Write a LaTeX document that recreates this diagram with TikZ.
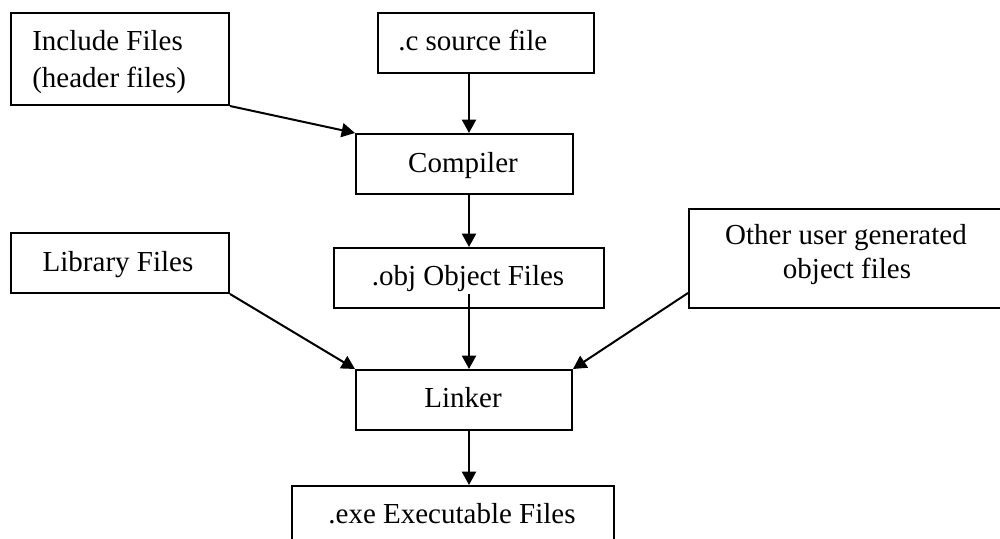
\documentclass[tikz,border=0pt]{standalone}
\usepackage{fontspec}
\setmainfont{Liberation Serif}
\usetikzlibrary{arrows.meta,calc}
\begin{document}
\begin{tikzpicture}[x=0.75pt,y=-0.75pt,
  box/.style={draw,line width=1.5pt,rectangle,inner sep=0pt,anchor=north west},
  txt/.style={inner sep=0pt,font=\fontsize{21.75}{26}\selectfont},
  arr/.style={line width=1.5pt,-{Triangle[length=10pt,width=10.5pt]}}]
\useasboundingbox (0,0) rectangle (1000,539);
% boxes
\node[box,minimum width=218*0.75pt,minimum height=92*0.75pt] (inc) at (10,12) {};
\node[box,minimum width=216*0.75pt,minimum height=60*0.75pt] (src) at (377,12) {};
\node[box,minimum width=217*0.75pt,minimum height=60*0.75pt] (comp) at (355,133) {};
\node[box,minimum width=270*0.75pt,minimum height=60*0.75pt] (obj) at (333,247) {};
\node[box,minimum width=218*0.75pt,minimum height=60*0.75pt] (lib) at (10,232) {};
\node[box,minimum width=318*0.75pt,minimum height=99*0.75pt] (oth) at (688,208) {};
\node[box,minimum width=216*0.75pt,minimum height=60*0.75pt] (lnk) at (355,369) {};
\node[box,minimum width=322*0.75pt,minimum height=70*0.75pt] (exe) at (291,485) {};
% texts
\node[txt,anchor=base west] (incA) at (32,50) {Include Files};
\node[txt,anchor=base west] (incB) at (32,87) {(header files)};
\node[txt,anchor=base west] (srcT) at (398,50) {.c source file};
\node[txt,anchor=base] (compT) at (463,172) {Compiler};
\node[txt,anchor=base] (objT) at (468,285) {.obj Object Files};
\node[txt,anchor=base] (libT) at (118,271) {Library Files};
\node[txt,anchor=base] (othA) at (846,244) {Other user generated};
\node[txt,anchor=base] (othB) at (847,278) {object files};
\node[txt,anchor=base] (lnkT) at (463,407) {Linker};
\node[txt,anchor=base] (exeT) at (452,523) {.exe Executable Files};
% connectors
\draw[arr] (inc.south east) -- (comp.north west);
\draw[arr] (src.south -| obj.north) -- (comp.north -| obj.north);
\draw[arr] (comp.south -| obj.north) -- (obj.north);
\coordinate (objin) at ($(obj.south)+(0,-15)$);
\draw[arr] (objin) -- (lnk.north -| objin);
\draw[arr] (lib.south east) -- (lnk.north west);
\coordinate (othin) at ($(oth.south west)+(0,-16)$);
\draw[arr] (othin) -- (lnk.north east);
\draw[arr] (lnk.south -| obj.south) -- (exe.north -| obj.south);
\end{tikzpicture}
\end{document}
